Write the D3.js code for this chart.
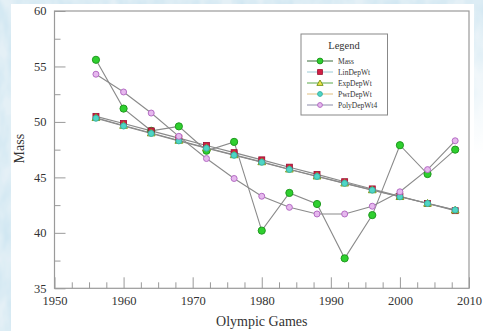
<!DOCTYPE html>
<html>
<head>
<meta charset="utf-8">
<script src="https://cdn.jsdelivr.net/npm/d3@7"></script>
<style>
  html, body { margin: 0; padding: 0; background: #fff; }
  svg { display: block; }
  text { font-family: "Liberation Serif", "DejaVu Serif", serif; }
</style>
</head>
<body>
<svg id="chart" width="483" height="331"></svg>
<script>
// Olympic Games years
const years = [1956, 1960, 1964, 1968, 1972, 1976, 1980, 1984, 1988, 1992, 1996, 2000, 2004, 2008];

// Observed mass and fitted weightings
const mass       = [55.6, 51.2, 49.2, 49.6, 47.4, 48.2, 40.2, 43.6, 42.6, 37.7, 41.6, 47.9, 45.3, 47.5];
const linDepWt   = [50.5, 49.85, 49.19, 48.54, 47.88, 47.23, 46.58, 45.92, 45.27, 44.61, 43.96, 43.3, 42.65, 42.0];
const expDepWt   = [50.38, 49.68, 49.0, 48.33, 47.67, 47.03, 46.4, 45.74, 45.11, 44.48, 43.87, 43.26, 42.66, 42.05];
const pwrDepWt   = [50.33, 49.63, 48.96, 48.29, 47.63, 46.99, 46.36, 45.71, 45.08, 44.46, 43.85, 43.25, 42.65, 42.06];
const polyDepWt4 = [54.3, 52.7, 50.8, 48.7, 46.7, 44.9, 43.3, 42.3, 41.7, 41.7, 42.4, 43.7, 45.7, 48.3];

// Axis ticks
const xMajorTicks = [1950, 1960, 1970, 1980, 1990, 2000, 2010];
const yMajorTicks = [35, 40, 45, 50, 55, 60];

const svg = d3.select("#chart");
const W = 483, H = 331;

// Icy backdrop behind the white page
const defs = svg.append("defs");
const f = defs.append("filter").attr("id", "ice").attr("x", 0).attr("y", 0).attr("width", "100%").attr("height", "100%");
f.append("feTurbulence").attr("type", "fractalNoise").attr("baseFrequency", "0.06 0.03").attr("numOctaves", 3).attr("seed", 7).attr("result", "noise");
f.append("feColorMatrix").attr("in", "noise").attr("type", "matrix")
  .attr("values", "0 0 0 0 0.60  0 0 0 0 0.78  0 0 0 0 0.88  0 0 0 -1.6 1.15").attr("result", "tint");
f.append("feComposite").attr("in", "tint").attr("in2", "SourceGraphic").attr("operator", "over");

const fade = defs.append("linearGradient").attr("id", "rightFade").attr("x1", 0).attr("y1", 0).attr("x2", 0).attr("y2", 1);
fade.append("stop").attr("offset", 0).attr("stop-color", "#fff").attr("stop-opacity", 0);
fade.append("stop").attr("offset", 1).attr("stop-color", "#fff").attr("stop-opacity", 1);

svg.append("rect").attr("width", W).attr("height", H).attr("fill", "#e4f0f6").attr("filter", "url(#ice)");
svg.append("rect").attr("x", 11).attr("y", 4).attr("width", 463).attr("height", H - 4).attr("fill", "#ffffff");
// right edge fades into the page further down
svg.append("rect").attr("x", 474).attr("y", 4).attr("width", 9).attr("height", 150).attr("fill", "url(#rightFade)");
svg.append("rect").attr("x", 474).attr("y", 154).attr("width", 9).attr("height", H - 154).attr("fill", "#fff");

// Plot frame
const pLeft = 54.5, pRight = 469, pTop = 11, pBottom = 288.3;
const x = d3.scaleLinear().domain([1950, 2010]).range([pLeft, pRight]);
const y = d3.scaleLinear().domain([35, 60]).range([pBottom, pTop]);

const axisColor = "#9a9a9a";
const g = svg.append("g");

g.append("rect").attr("x", pLeft).attr("y", pTop).attr("width", pRight - pLeft).attr("height", pBottom - pTop)
  .attr("fill", "none").attr("stroke", axisColor).attr("stroke-width", 1.2);

// Bottom axis: ticks point inward
const xAxis = d3.axisBottom(x).tickValues(d3.range(1950, 2010.1, 2.5))
  .tickSize(0).tickFormat(d => xMajorTicks.includes(d) ? d : "");
const gx = g.append("g").attr("transform", `translate(0,${pBottom})`).call(xAxis);
gx.select(".domain").remove();
gx.selectAll(".tick line").attr("y2", d => xMajorTicks.includes(d) ? -11 : -6).attr("stroke", axisColor);
gx.selectAll(".tick text").attr("y", 8).attr("dy", "0.71em").attr("font-size", 12.5).attr("fill", "#333")
  .attr("font-family", "Liberation Serif, serif");

// Left axis: ticks point inward
const yAxis = d3.axisLeft(y).tickValues(d3.range(35, 60.1, 2.5))
  .tickSize(0).tickFormat(d => yMajorTicks.includes(d) ? d : "");
const gy = g.append("g").attr("transform", `translate(${pLeft},0)`).call(yAxis);
gy.select(".domain").remove();
gy.selectAll(".tick line").attr("x2", d => yMajorTicks.includes(d) ? 11 : 6).attr("stroke", axisColor);
gy.selectAll(".tick text").attr("x", -8).attr("dy", "0.3em").attr("font-size", 12.5).attr("fill", "#333")
  .attr("font-family", "Liberation Serif, serif");

// Axis titles
svg.append("text").attr("x", (pLeft + pRight) / 2).attr("y", 326).attr("text-anchor", "middle")
  .attr("font-size", 14).attr("fill", "#333").text("Olympic Games");
svg.append("text").attr("transform", `translate(24,${(pTop + pBottom) / 2 - 1}) rotate(-90)`).attr("text-anchor", "middle")
  .attr("font-size", 14).attr("fill", "#333").text("Mass");

// Series definitions
const series = [
  { name: "Mass", values: mass, shape: "circle", r: 3.6, fill: "#2fcf2f", stroke: "#1f9a1f", legendLine: "#3a6a3a" },
  { name: "LinDepWt", values: linDepWt, shape: "square", r: 3.0, fill: "#d11f45", stroke: "#9a1030", legendLine: "#9ccbd6" },
  { name: "ExpDepWt", values: expDepWt, shape: "triangle", r: 3.4, fill: "#f2e34a", stroke: "#7a9a20", legendLine: "#5aa84a" },
  { name: "PwrDepWt", values: pwrDepWt, shape: "circle", r: 3.0, fill: "#4fd6c6", stroke: "#3ab3a6", legendLine: "#e0bf80" },
  { name: "PolyDepWt4", values: polyDepWt4, shape: "circle", r: 3.0, fill: "#e6b8ee", stroke: "#b46cc4", legendLine: "#8c8ca8" }
];

const line = d3.line().x(d => x(d[0])).y(d => y(d[1]));

function drawMarker(sel, s, cx, cy, scale = 1) {
  const r = s.r * scale;
  if (s.shape === "circle") {
    sel.append("circle").attr("cx", cx).attr("cy", cy).attr("r", r)
      .attr("fill", s.fill).attr("stroke", s.stroke).attr("stroke-width", 1);
  } else if (s.shape === "square") {
    sel.append("rect").attr("x", cx - r).attr("y", cy - r).attr("width", 2 * r).attr("height", 2 * r)
      .attr("fill", s.fill).attr("stroke", s.stroke).attr("stroke-width", 0.8);
  } else {
    const p = d3.symbol(d3.symbolTriangle, 26 * scale * scale)();
    sel.append("path").attr("d", p).attr("transform", `translate(${cx},${cy + 0.6})`)
      .attr("fill", s.fill).attr("stroke", s.stroke).attr("stroke-width", 1);
  }
}

// Lines first, then markers on top
const plot = svg.append("g");
series.forEach(s => {
  plot.append("path").datum(years.map((yr, i) => [yr, s.values[i]]))
    .attr("d", line).attr("fill", "none").attr("stroke", "#8a8a8a").attr("stroke-width", 1.1);
});
series.forEach(s => {
  const mg = plot.append("g");
  years.forEach((yr, i) => drawMarker(mg, s, x(yr), y(s.values[i])));
});

// Legend
const lg = svg.append("g");
lg.append("rect").attr("x", 301).attr("y", 34).attr("width", 86.5).attr("height", 81)
  .attr("fill", "#fff").attr("stroke", "#888").attr("stroke-width", 1);
lg.append("text").attr("x", 344).attr("y", 49).attr("text-anchor", "middle").attr("font-size", 10.5)
  .attr("fill", "#333").text("Legend");
series.forEach((s, i) => {
  const ly = 61 + i * 11;
  lg.append("line").attr("x1", 307).attr("x2", 333).attr("y1", ly).attr("y2", ly)
    .attr("stroke", s.legendLine).attr("stroke-width", 1);
  drawMarker(lg, s, 320, ly, 0.8);
  lg.append("text").attr("x", 338).attr("y", ly + 2.5).attr("font-size", 7.5).attr("fill", "#333").text(s.name);
});
</script>
</body>
</html>
